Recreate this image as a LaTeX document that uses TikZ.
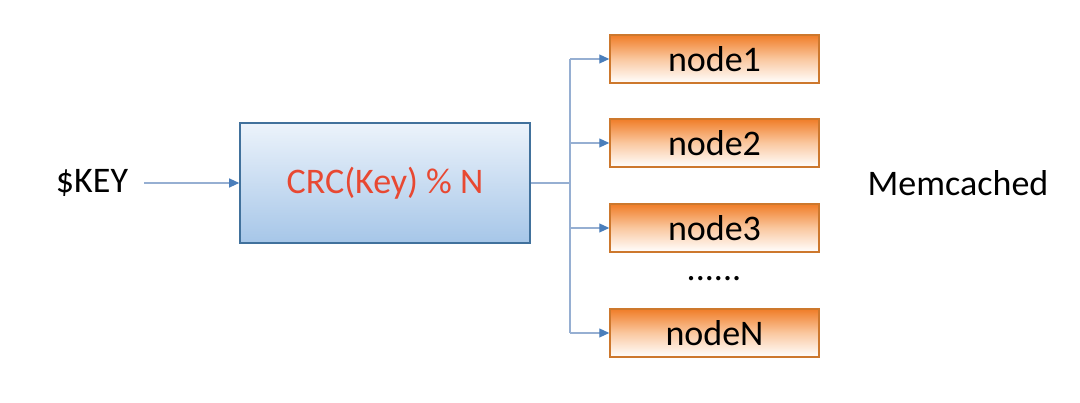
\documentclass[tikz,border=0pt]{standalone}
\usepackage{fontspec}
\setmainfont{Carlito}
\usetikzlibrary{arrows.meta,calc}
\definecolor{lineblue}{RGB}{150,175,210}
\definecolor{arrowblue}{RGB}{74,126,187}
\definecolor{boxborder}{RGB}{65,113,156}
\definecolor{boxtop}{RGB}{236,243,251}
\definecolor{boxbot}{RGB}{166,198,232}
\definecolor{nodeborder}{RGB}{205,120,45}
\definecolor{nodetop}{RGB}{240,125,40}
\definecolor{nodemid}{RGB}{250,200,160}
\definecolor{crcred}{RGB}{232,72,50}
\tikzset{
  lbl/.style={font=\fontsize{36}{43}\selectfont, inner sep=0pt},
  crcbox/.style={draw=boxborder, line width=1.6pt, top color=boxtop, bottom color=boxbot,
    minimum width=290pt, minimum height=120pt, inner sep=0pt},
  mcnode/.style={draw=nodeborder, line width=1.5pt, top color=nodetop, bottom color=white, middle color=nodemid,
    minimum width=209pt, minimum height=48pt, inner sep=0pt, font=\fontsize{36}{43}\selectfont},
  conn/.style={draw=lineblue, line width=1.1pt},
  arr/.style={conn, -{Triangle[length=10pt,width=9pt,color=arrowblue,fill=arrowblue]}}
}
\begin{document}
\begin{tikzpicture}[x=1pt,y=1pt]
\useasboundingbox[fill=white] (0,0) rectangle (1080,403);
\node[lbl] (key) at (92,220) {\$KEY};
\node[crcbox] (crc) at (385,220) {};
\node[lbl, text=crcred] (crctext) at (crc.center) {CRC(Key) \% N};
\node[mcnode] (n1) at (714.5,344) {node1};
\node[mcnode] (n2) at (714.5,260) {node2};
\node[mcnode] (n3) at (714.5,175) {node3};
\node[mcnode] (nN) at (714.5,70) {nodeN};
\node[lbl, anchor=base] (dots) at (714,122) {......};
\node[lbl] (mem) at (958,220) {Memcached};
\coordinate (t) at (570,220);
\draw[arr] ([xshift=16pt]key.east) -- (crc.west);
\draw[conn] (crc.east) -- (t);
\draw[conn] (t |- n1.west) -- (t |- nN.west);
\draw[arr] (t |- n1.west) -- (n1.west);
\draw[arr] (t |- n2.west) -- (n2.west);
\draw[arr] (t |- n3.west) -- (n3.west);
\draw[arr] (t |- nN.west) -- (nN.west);
\end{tikzpicture}
\end{document}
